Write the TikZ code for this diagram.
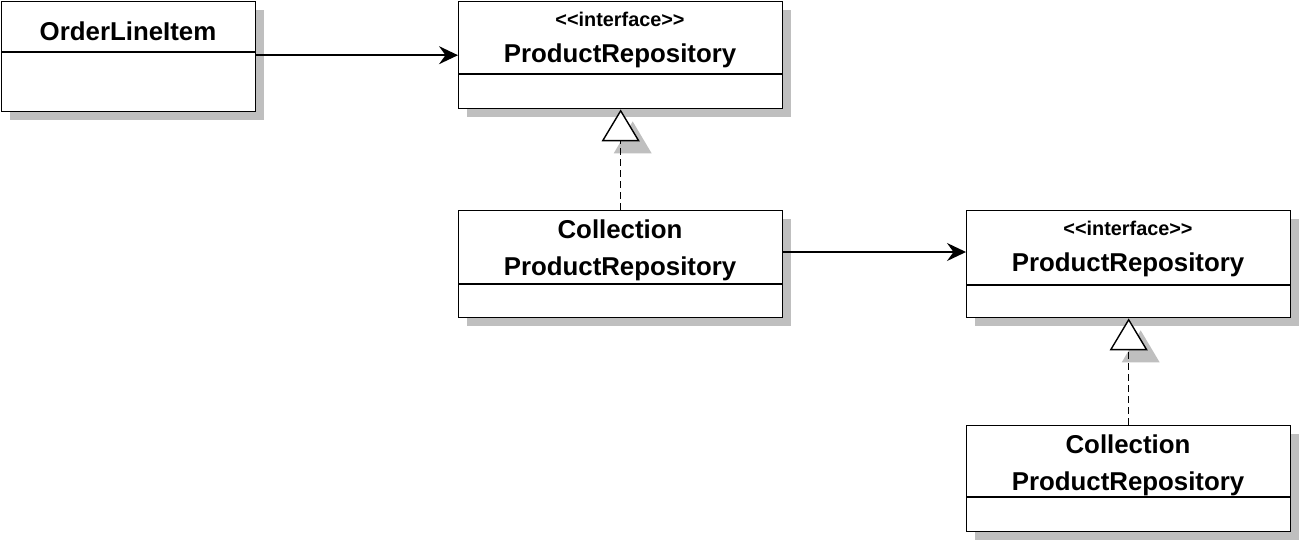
\documentclass[tikz,border=0pt]{standalone}
\usepackage{fontspec}
\setmainfont{Liberation Sans}
\usetikzlibrary{arrows.meta,shadows}

\begin{document}
\begin{tikzpicture}[x=0.02cm, y=-0.02cm,
	klasse/.style={draw, line width=0.8pt, fill=white, anchor=north west,
		minimum width=6.48cm, minimum height=2.14cm, inner sep=0pt,
		drop shadow={shadow xshift=0.16cm, shadow yshift=-0.16cm,
			fill=black!25, opacity=1}},
	titel/.style={font=\fontsize{14.7}{17}\selectfont\bfseries, anchor=base,
		inner sep=0pt},
	stereo/.style={font=\fontsize{11.3}{13}\selectfont\bfseries, anchor=base,
		inner sep=0pt},
	trenn/.style={line width=0.8pt},
	assoz/.style={line width=0.8pt,
		-{Stealth[length=0.38cm, width=0.36cm, inset=0.13cm]}},
	real/.style={line width=0.8pt, dash pattern=on 4pt off 2.3pt,
		-{Triangle[length=0.64cm, width=0.76cm, fill=white, line width=0.8pt]}},
	schatten/.style={fill=black!25}]
	\useasboundingbox (0,0) rectangle (1300,542);

	% Klassen
	\node[klasse, minimum width=5.08cm, minimum height=2.2cm] (oli) at (1,1) {};
	\node[klasse] (repo1) at (458,1) {};
	\node[klasse] (coll1) at (458,210) {};
	\node[klasse] (repo2) at (966,210) {};
	\node[klasse, minimum height=2.12cm] (coll2) at (966,425) {};

	% Trennlinien
	\draw[trenn] (oli.west |- 0,52) -- (oli.east |- 0,52);
	\draw[trenn] (repo1.west |- 0,74) -- (repo1.east |- 0,74);
	\draw[trenn] (coll1.west |- 0,284) -- (coll1.east |- 0,284);
	\draw[trenn] (repo2.west |- 0,285) -- (repo2.east |- 0,285);
	\draw[trenn] (coll2.west |- 0,497) -- (coll2.east |- 0,497);

	% Namen
	\node[titel] (oliname) at (128,40) {OrderLineItem};
	\node[stereo] (repo1typ) at (620,26) {<{}<interface>{}>};
	\node[titel] (repo1name) at (620,62) {ProductRepository};
	\node[titel] (coll1name) at (620,238) {Collection};
	\node[titel] (coll1name2) at (620,275) {ProductRepository};
	\node[stereo] (repo2typ) at (1128,235) {<{}<interface>{}>};
	\node[titel] (repo2name) at (1128,271) {ProductRepository};
	\node[titel] (coll2name) at (1128,453) {Collection};
	\node[titel] (coll2name2) at (1128,490) {ProductRepository};

	% Assoziationen
	\coordinate (mitte) at (0,252);
	\draw[assoz] (oli.east |- repo1.west) -- (repo1.west);
	\draw[assoz] (coll1.east |- mitte) -- (repo2.west |- mitte);

	% Realisierungen
	\fill[schatten] ([shift={(12,12)}]repo1.south) -- ++(-19,32) -- ++(38,0) -- cycle;
	\fill[schatten] ([shift={(12,12)}]repo2.south) -- ++(-19,32) -- ++(38,0) -- cycle;
	\draw[real] (coll1.north) -- (repo1.south);
	\draw[real] (coll2.north) -- (repo2.south);
\end{tikzpicture}
\end{document}
